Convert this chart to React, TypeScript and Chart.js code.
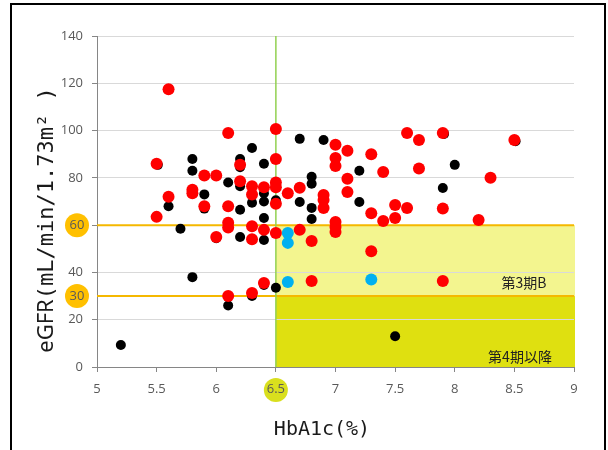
import React, { useEffect, useRef } from "react";
import { Chart, registerables } from "chart.js";

Chart.register(...registerables);

// HbA1c (%) / eGFR values per group
const blackX = [5.2, 5.51, 5.6, 5.7, 5.8, 5.8, 5.8, 5.9, 5.9, 6.0, 6.1, 6.1, 6.2, 6.2, 6.2, 6.2, 6.2, 6.3, 6.3, 6.3, 6.4, 6.4, 6.4, 6.4, 6.4, 6.4, 6.5, 6.5, 6.7, 6.7, 6.8, 6.8, 6.8, 6.8, 6.9, 7.2, 7.2, 7.5, 7.9, 7.91, 8.0, 8.51];
const blackY = [9.3, 85.5, 68, 58.5, 88, 83, 38, 73, 67, 54.5, 78, 26, 88, 84.5, 76.5, 66.5, 55, 92.6, 69.5, 30, 86, 73.5, 70, 63, 53.7, 34.7, 70.5, 33.5, 96.5, 69.8, 80.5, 77.5, 67.3, 62.6, 96, 83, 69.8, 13, 75.7, 98.6, 85.5, 95.5];

const redX = [5.5, 5.5, 5.6, 5.6, 5.8, 5.8, 5.9, 5.9, 6.0, 6.0, 6.1, 6.1, 6.1, 6.1, 6.1, 6.2, 6.2, 6.3, 6.3, 6.3, 6.3, 6.3, 6.4, 6.4, 6.4, 6.5, 6.5, 6.5, 6.5, 6.5, 6.5, 6.6, 6.7, 6.7, 6.8, 6.8, 6.9, 6.9, 6.9, 7.0, 7.0, 7.0, 7.0, 7.0, 7.0, 7.1, 7.1, 7.1, 7.3, 7.3, 7.3, 7.4, 7.4, 7.5, 7.5, 7.6, 7.6, 7.7, 7.7, 7.9, 7.9, 7.9, 8.2, 8.3, 8.5];
const redY = [86, 63.5, 117.5, 72, 75, 73.5, 81, 68, 81, 55, 99, 68, 61, 59, 30, 85.5, 78.6, 76.5, 73, 59.5, 54, 31.3, 76, 58, 35.5, 100.7, 88, 78, 76, 69, 56.7, 73.5, 75.8, 58, 53.3, 36.4, 72.8, 70.6, 67.3, 94, 88.4, 85, 61.3, 59.2, 57.1, 91.5, 79.6, 74, 90, 65, 49, 82.5, 61.8, 68.5, 63, 99, 67.3, 96, 84, 99, 67, 36.4, 62.2, 80, 96];

const blueX = [6.6, 6.6, 6.6, 7.3];
const blueY = [56.7, 52.5, 36, 37];

const xMin = 5;
const xMax = 9;
const xStep = 0.5;
const yMin = 0;
const yMax = 140;
const yStep = 20;

const hba1cLine = 6.5;
const egfrLines = [60, 30];
const zoneLabels = ["第3期B", "第4期以降"];
const yTitle = ["eGFR", "(mL/min/1.73m² )"];
const xTitle = "HbA1c(%)";

const toPoints = (xs: number[], ys: number[]) => xs.map((x, i) => ({ x, y: ys[i] }));

const TICK_FONT = '13px "Open Sans", sans-serif';

const zonesPlugin = {
  id: "zones",
  beforeDraw(chart: any) {
    const { ctx, scales } = chart;
    const x = scales.x;
    const y = scales.y;
    const x0 = x.getPixelForValue(hba1cLine);
    const x1 = x.getPixelForValue(xMax);
    const y60 = y.getPixelForValue(egfrLines[0]);
    const y30 = y.getPixelForValue(egfrLines[1]);
    const y0 = y.getPixelForValue(yMin);
    ctx.save();
    ctx.fillStyle = "#fff";
    ctx.fillRect(0, 0, chart.width, chart.height);
    ctx.fillStyle = "#f3f58f";
    ctx.fillRect(x0, y60, x1 - x0 + 1, y30 - y60);
    ctx.fillStyle = "#dfe010";
    ctx.fillRect(x0, y30, x1 - x0 + 1, y0 - y30);
    // badge behind 6.5 tick label
    ctx.fillStyle = "#d9df1e";
    ctx.beginPath();
    ctx.arc(x0, y0 + 23, 12, 0, Math.PI * 2);
    ctx.fill();
    ctx.restore();
  },
  beforeDatasetsDraw(chart: any) {
    const { ctx, scales } = chart;
    const x = scales.x;
    const y = scales.y;
    const xl = x.getPixelForValue(xMin);
    const xr = x.getPixelForValue(xMax);
    const x65 = x.getPixelForValue(hba1cLine);
    ctx.save();
    ctx.strokeStyle = "#f5b800";
    ctx.lineWidth = 2;
    egfrLines.forEach((v) => {
      const py = y.getPixelForValue(v);
      ctx.beginPath();
      ctx.moveTo(xl, py);
      ctx.lineTo(xr, py);
      ctx.stroke();
    });
    ctx.strokeStyle = "#92d050";
    ctx.lineWidth = 1.5;
    ctx.beginPath();
    ctx.moveTo(x65, y.getPixelForValue(yMin));
    ctx.lineTo(x65, y.getPixelForValue(yMax));
    ctx.stroke();
    ctx.fillStyle = "#222";
    ctx.font = '14px "Noto Sans CJK JP", sans-serif';
    ctx.textAlign = "center";
    ctx.textBaseline = "middle";
    ctx.fillText(zoneLabels[0], 524, y.getPixelForValue(35.5));
    ctx.fillText(zoneLabels[1], 520, y.getPixelForValue(4.5));
    ctx.restore();
  },
  afterDraw(chart: any) {
    const { ctx, scales } = chart;
    const y = scales.y;
    ctx.save();
    // badges for 60 / 30
    egfrLines.forEach((v) => {
      const py = y.getPixelForValue(v);
      ctx.fillStyle = "#ffc000";
      ctx.beginPath();
      ctx.arc(77, py, 12, 0, Math.PI * 2);
      ctx.fill();
      ctx.fillStyle = "#595959";
      ctx.font = TICK_FONT;
      ctx.textAlign = "center";
      ctx.textBaseline = "middle";
      ctx.fillText(String(v), 77, py + 0.5);
    });
    // y title
    ctx.save();
    ctx.translate(53, 220);
    ctx.rotate(-Math.PI / 2);
    ctx.fillStyle = "#1a1a1a";
    ctx.textBaseline = "alphabetic";
    const f1 = '22px "Noto Sans", sans-serif';
    const f2 = '22px "DejaVu Sans Mono", monospace';
    ctx.font = f1;
    const w1 = ctx.measureText(yTitle[0]).width;
    ctx.font = f2;
    const w2 = ctx.measureText(yTitle[1]).width;
    const start = -(w1 + w2) / 2;
    ctx.textAlign = "left";
    ctx.font = f1;
    ctx.fillText(yTitle[0], start, 0);
    ctx.font = f2;
    ctx.fillText(yTitle[1], start + w1, 0);
    ctx.restore();
    // x title
    ctx.fillStyle = "#1a1a1a";
    ctx.font = '20px "DejaVu Sans Mono", monospace';
    ctx.textAlign = "center";
    ctx.textBaseline = "alphabetic";
    ctx.fillText(xTitle, 322, 435);
    // frame
    ctx.strokeStyle = "#000";
    ctx.lineWidth = 2;
    ctx.strokeRect(11, 4, 594, 470);
    ctx.restore();
  },
};

export default function App() {
  const ref = useRef<HTMLCanvasElement | null>(null);

  useEffect(() => {
    if (!ref.current) return;
    const chart = new Chart(ref.current, {
      type: "scatter",
      data: {
        datasets: [
          {
            label: "blue",
            data: toPoints(blueX, blueY),
            backgroundColor: "#00b0f0",
            borderColor: "#00b0f0",
            pointRadius: 6,
            borderWidth: 0,
            order: 0,
          },
          {
            label: "red",
            data: toPoints(redX, redY),
            backgroundColor: "#ff0000",
            borderColor: "#ff0000",
            pointRadius: 6,
            borderWidth: 0,
            order: 1,
          },
          {
            label: "black",
            data: toPoints(blackX, blackY),
            backgroundColor: "#000000",
            borderColor: "#000000",
            pointRadius: 5,
            borderWidth: 0,
            order: 2,
          },
        ],
      },
      options: {
        responsive: false,
        animation: false,
        devicePixelRatio: 1,
        layout: { padding: { left: 0, right: 34, top: 36, bottom: 0 } },
        plugins: {
          legend: { display: false },
          tooltip: { enabled: false },
          title: { display: false },
        },
        scales: {
          x: {
            type: "linear",
            min: xMin,
            max: xMax,
            ticks: {
              stepSize: xStep,
              color: "#595959",
              font: { family: '"Open Sans", sans-serif', size: 13 },
              padding: 9,
              maxRotation: 0,
              callback: (v: any) => String(Number(v)),
            },
            grid: {
              drawOnChartArea: false,
              tickColor: "#868686",
              tickLength: 5,
            },
            border: { color: "#868686", width: 1 },
            afterFit: (s: any) => {
              s.height = 83;
            },
          },
          y: {
            type: "linear",
            min: yMin,
            max: yMax,
            ticks: {
              stepSize: yStep,
              color: "#595959",
              font: { family: '"Open Sans", sans-serif', size: 13 },
              padding: 9,
            },
            grid: {
              color: "#d9d9d9",
              tickColor: "#868686",
              tickLength: 5,
            },
            border: { color: "#868686", width: 1 },
            afterFit: (s: any) => {
              s.width = 97;
            },
          },
        },
      },
      plugins: [zonesPlugin],
    });
    return () => chart.destroy();
  }, []);

  return (
    <div style={{ position: "fixed", left: 0, top: 0, width: 608, height: 450, background: "#fff" }}>
      <canvas ref={ref} width={608} height={450} style={{ display: "block" }} />
    </div>
  );
}
